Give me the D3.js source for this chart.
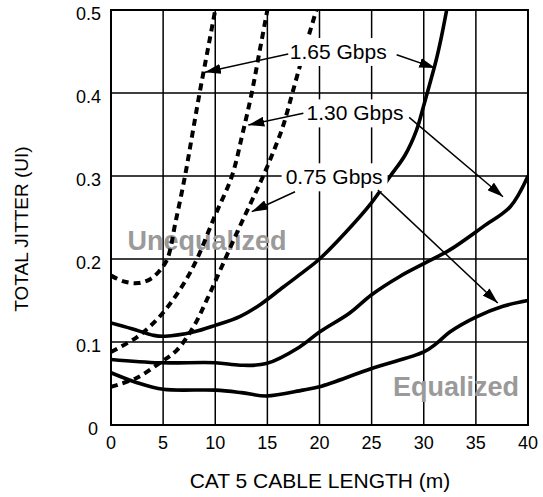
<!DOCTYPE html>
<html>
<head>
<meta charset="utf-8">
<script src="https://cdn.jsdelivr.net/npm/d3@7/dist/d3.min.js"></script>
<style>
  html, body { margin: 0; padding: 0; background: #fff; }
  svg { display: block; font-family: "Liberation Sans", Arial, sans-serif; }
</style>
</head>
<body>
<svg id="chart" width="543" height="497"></svg>
<script>
// ---- data ----
const xTicks = [0, 5, 10, 15, 20, 25, 30, 35, 40];
const yTicks = [0, 0.1, 0.2, 0.3, 0.4, 0.5];
const yTickLabels = ["0", "0.1", "0.2", "0.3", "0.4", "0.5"];

// Unequalized (dashed)
const unEq165X = [0, 1.2, 2.6, 3.8, 4.6, 5.4, 6.2, 7.1, 7.8, 8.5, 9.25, 10];
const unEq165Y = [0.18, 0.173, 0.171, 0.176, 0.185, 0.2, 0.245, 0.3, 0.35, 0.4, 0.45, 0.5];
const unEq130X = [0, 2.5, 4.4, 5.9, 7.2, 8.25, 9.9, 11.6, 12.6, 13.5, 14.25, 15.0];
const unEq130Y = [0.088, 0.106, 0.127, 0.15, 0.175, 0.2, 0.25, 0.3, 0.35, 0.4, 0.45, 0.5];
const unEq075X = [0, 2.5, 4.7, 6.3, 7.9, 9.2, 10.6, 12.2, 13.5, 14.6, 15.6, 16.5, 17.4, 18.4, 19.7];
const unEq075Y = [0.046, 0.057, 0.075, 0.09, 0.118, 0.151, 0.19, 0.235, 0.27, 0.30, 0.33, 0.36, 0.4, 0.445, 0.5];

// Equalized (solid)
const eq165X = [0, 2, 4.1, 5.2, 7.9, 10, 12.4, 14.3, 16.5, 18.3, 20, 22.5, 25, 26.8, 28.2, 29.3, 30.0, 30.6, 31.2, 31.7, 32.2];
const eq165Y = [0.123, 0.116, 0.108, 0.107, 0.112, 0.12, 0.131, 0.145, 0.166, 0.183, 0.2, 0.232, 0.268, 0.3, 0.325, 0.355, 0.385, 0.412, 0.44, 0.468, 0.5];
const eq130X = [0, 4.7, 10, 12.4, 14.9, 18.1, 20, 22.9, 25, 27.7, 30.1, 32.5, 35.7, 38.3, 40];
const eq130Y = [0.079, 0.075, 0.075, 0.072, 0.074, 0.094, 0.112, 0.135, 0.157, 0.179, 0.195, 0.211, 0.239, 0.263, 0.3];
const eq075X = [0, 2.5, 5, 10, 12.5, 14.9, 18.4, 20, 25, 30, 31.2, 32.5, 35, 37.6, 40];
const eq075Y = [0.063, 0.051, 0.043, 0.042, 0.039, 0.035, 0.042, 0.046, 0.068, 0.088, 0.098, 0.112, 0.13, 0.143, 0.15];

// Rate labels (data units, baseline)
const rateLabels = ["1.65 Gbps", "1.30 Gbps", "0.75 Gbps"];
const rateLabelX = [21.8, 23.4, 21.4];
const rateLabelY = [0.441, 0.367, 0.29];
// Arrows from label to curve (data units)
const arrowFromX = [17.0, 27.4, 18.45, 28.6, 17.65, 25.6];
const arrowFromY = [0.447, 0.446, 0.3755, 0.3707, 0.281, 0.283];
const arrowToX   = [9.0, 31.1, 13.17, 37.6, 13.5, 37.1];
const arrowToY   = [0.425, 0.430, 0.3614, 0.275, 0.257, 0.147];

// ---- drawing ----
const svg = d3.select("#chart");
const x = d3.scaleLinear().domain([0, 40]).range([111, 528]);
const y = d3.scaleLinear().domain([0, 0.5]).range([425, 10]);

// grid
const grid = svg.append("g");
grid.selectAll("line.v").data(xTicks).join("line")
  .attr("x1", d => x(d)).attr("x2", d => x(d))
  .attr("y1", y(0)).attr("y2", y(0.5))
  .attr("stroke", "#000").attr("stroke-width", 1.5);
grid.selectAll("line.h").data(yTicks).join("line")
  .attr("y1", d => y(d)).attr("y2", d => y(d))
  .attr("x1", x(0)).attr("x2", x(40))
  .attr("stroke", "#000").attr("stroke-width", 1.5);

// background gray texts
svg.append("text").attr("x", 207).attr("y", 250).attr("text-anchor", "middle")
  .attr("font-size", 27).attr("font-weight", "bold").attr("fill", "#9a9a9a").text("Unequalized");
svg.append("text").attr("x", 456).attr("y", 396).attr("text-anchor", "middle")
  .attr("font-size", 27).attr("font-weight", "bold").attr("fill", "#9a9a9a").text("Equalized");

// clip
svg.append("clipPath").attr("id", "clip").append("rect")
  .attr("x", x(0)).attr("y", y(0.5)).attr("width", x(40) - x(0)).attr("height", y(0) - y(0.5));

const line = d3.line().x(d => x(d[0])).y(d => y(d[1])).curve(d3.curveCatmullRom.alpha(0.5));
const zip = (a, b) => a.map((v, i) => [v, b[i]]);
const curves = svg.append("g").attr("clip-path", "url(#clip)");
[[unEq165X, unEq165Y], [unEq130X, unEq130Y], [unEq075X, unEq075Y]].forEach(s => {
  curves.append("path").attr("d", line(zip(s[0], s[1])))
    .attr("fill", "none").attr("stroke", "#000").attr("stroke-width", 4)
    .attr("stroke-dasharray", "7,5");
});
[[eq165X, eq165Y], [eq130X, eq130Y], [eq075X, eq075Y]].forEach(s => {
  curves.append("path").attr("d", line(zip(s[0], s[1])))
    .attr("fill", "none").attr("stroke", "#000").attr("stroke-width", 3.6)
    .attr("stroke-linejoin", "round");
});

// label backgrounds + labels (on top of curves and grid)
const lab = svg.append("g");
rateLabels.forEach((t, i) => {
  const g = lab.append("g");
  const tx = g.append("text").attr("x", x(rateLabelX[i])).attr("y", y(rateLabelY[i]))
    .attr("text-anchor", "middle").attr("font-size", 21).attr("fill", "#000").text(t);
  const bb = tx.node().getBBox();
  g.insert("rect", "text").attr("x", bb.x - 4).attr("y", bb.y - 2)
    .attr("width", bb.width + 9).attr("height", bb.height + 5).attr("fill", "#fff");
});

// arrows
const defs = svg.append("defs");
defs.append("marker").attr("id", "ah").attr("viewBox", "0 0 16 10")
  .attr("refX", 16).attr("refY", 5).attr("markerWidth", 16).attr("markerHeight", 10)
  .attr("markerUnits", "userSpaceOnUse").attr("orient", "auto")
  .append("path").attr("d", "M0,0 L16,5 L0,10 Z").attr("fill", "#000");
arrowFromX.forEach((fx, i) => {
  svg.append("line").attr("x1", x(fx)).attr("y1", y(arrowFromY[i]))
    .attr("x2", x(arrowToX[i])).attr("y2", y(arrowToY[i]))
    .attr("stroke", "#000").attr("stroke-width", 1.5).attr("marker-end", "url(#ah)");
});

// frame
svg.append("rect").attr("x", x(0)).attr("y", y(0.5)).attr("width", x(40) - x(0))
  .attr("height", y(0) - y(0.5)).attr("fill", "none").attr("stroke", "#000").attr("stroke-width", 2);

// tick labels
svg.selectAll("text.xt").data(xTicks).join("text").attr("class", "xt")
  .attr("x", d => x(d)).attr("y", 449).attr("text-anchor", "middle")
  .attr("font-size", 18).text(d => d);
svg.selectAll("text.yt").data(yTicks).join("text").attr("class", "yt")
  .attr("x", (d, i) => i === 0 ? 98 : 101).attr("y", d => y(d) + 10).attr("text-anchor", "end")
  .attr("font-size", 18).text((d, i) => yTickLabels[i]);

// axis titles
svg.append("text").attr("x", 320).attr("y", 488).attr("text-anchor", "middle")
  .attr("font-size", 21).text("CAT 5 CABLE LENGTH (m)");
svg.append("text").attr("transform", "translate(28,229) rotate(-90)").attr("text-anchor", "middle")
  .attr("font-size", 19).text("TOTAL JITTER (UI)");
</script>
</body>
</html>
